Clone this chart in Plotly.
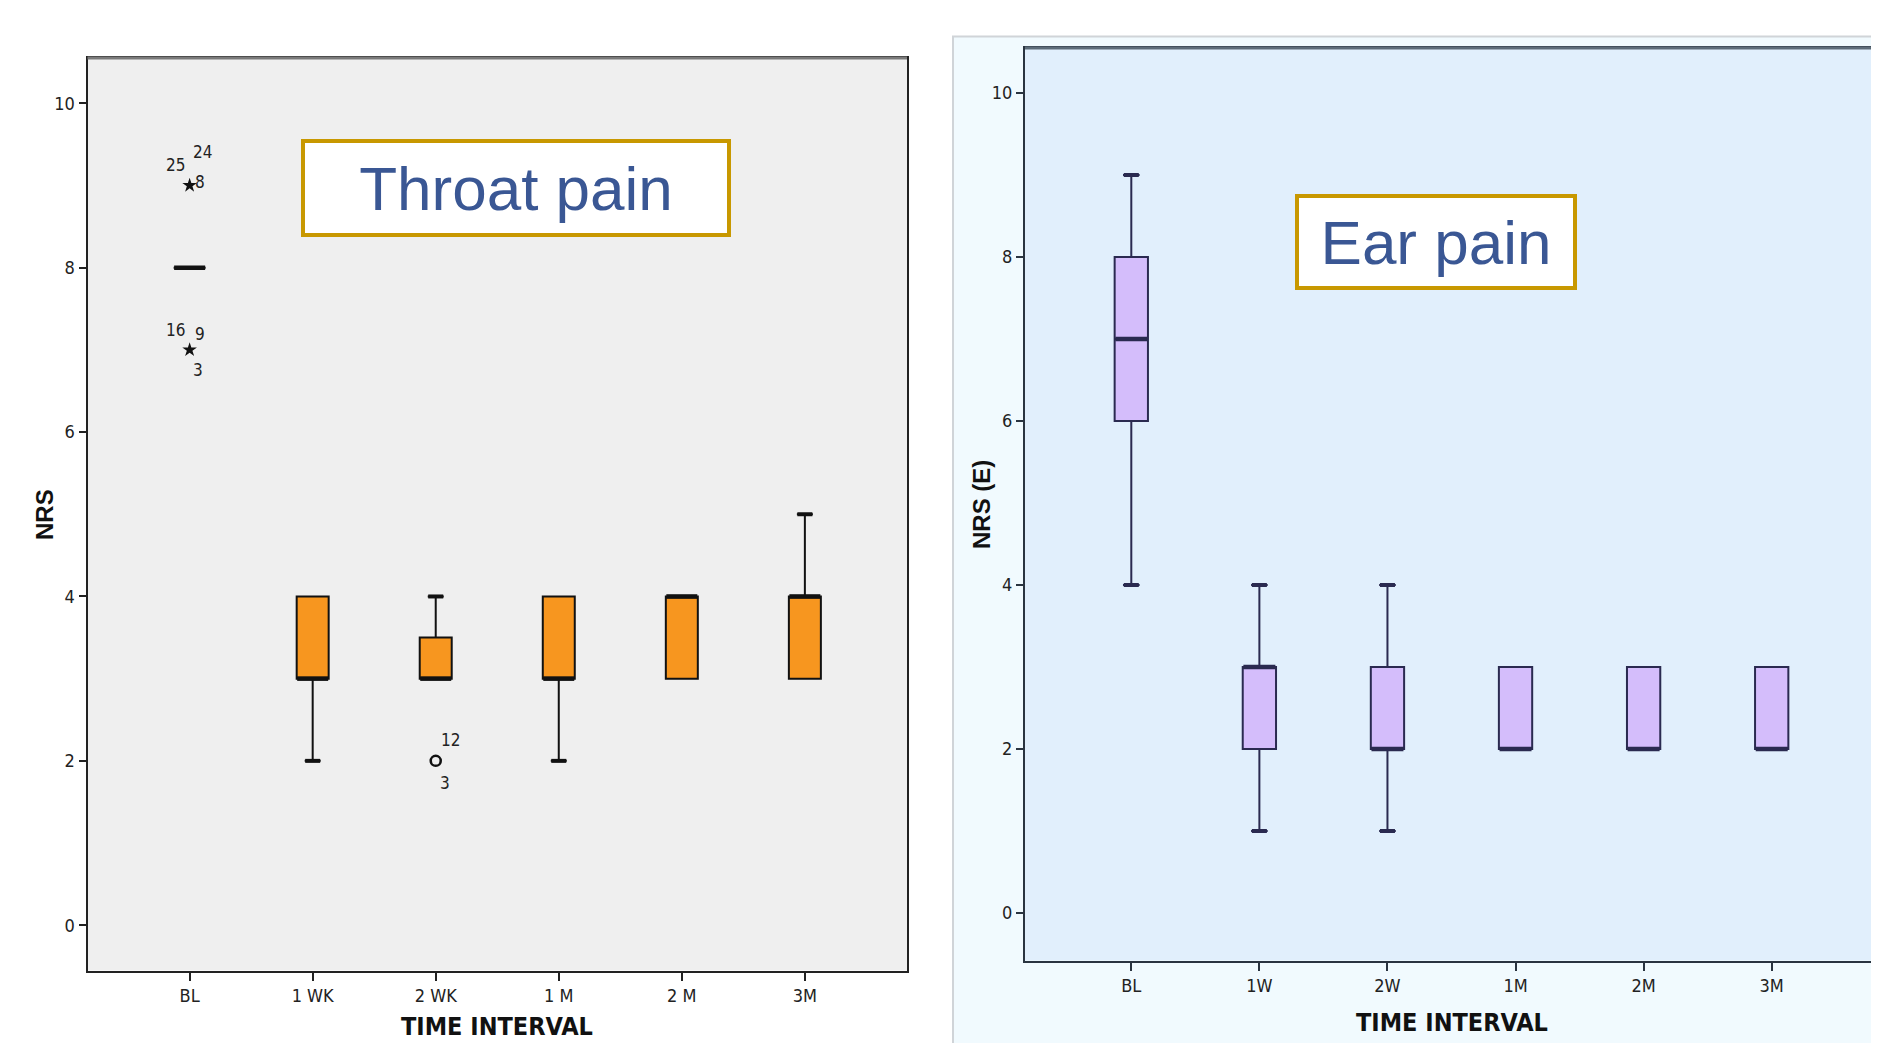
import plotly.graph_objects as go

# The page body has an 8px margin; the figure is sized/positioned to compensate.
OFF = 8
FW, FH = 1879 - OFF, 1043 - OFF

def px(x):
    return (x - OFF) / FW

def py(y):
    return 1 - (y - OFF) / FH

# ---------------- data ----------------
throat_cats = ["BL", "1 WK", "2 WK", "1 M", "2 M", "3M"]
throat_q1 = [8, 3, 3, 3, 3, 3]
throat_med = [8, 3, 3, 3, 4, 4]
throat_q3 = [8, 4, 3.5, 4, 4, 4]
throat_lo = [8, 2, 3, 2, 3, 3]
throat_hi = [8, 4, 4, 4, 4, 5]

throat_star_x = ["BL", "BL"]
throat_star_y = [9, 7]
throat_circle_x = ["2 WK"]
throat_circle_y = [2]
# outlier case labels
throat_case_cat = ["BL", "BL", "BL", "BL", "BL", "BL", "2 WK", "2 WK"]
throat_case_val = [9, 9, 9, 7, 7, 7, 2, 2]
throat_case_lbl = ["25", "24", "8", "16", "9", "3", "12", "3"]
throat_case_dx = [-14, 13, 10, -14, 10, 8, 15, 9]
throat_case_dy = [20, 33, 3, 20, 16, -20, 21, -22]

ear_cats = ["BL", "1W", "2W", "1M", "2M", "3M"]
ear_q1 = [6, 2, 2, 2, 2, 2]
ear_med = [7, 3, 2, 2, 2, 2]
ear_q3 = [8, 3, 3, 3, 3, 3]
ear_lo = [4, 1, 1, 2, 2, 2]
ear_hi = [9, 4, 4, 3, 3, 3]

y_ticks = [0, 2, 4, 6, 8, 10]

# ---------------- styles ----------------
NARROW = "Liberation Sans Narrow, DejaVu Sans Condensed, Arial Narrow, Liberation Sans, sans-serif"
ARIAL = "Liberation Sans, Arial, sans-serif"
ORANGE = "#f7961f"
LAVENDER = "#d4bdfb"
EAR_EDGE = "#2a2a50"
BOX_W = 0.26
LINE_EW = 1.4  # plotly's line-ew symbol length = 1.4 * size

fig = go.Figure()

def add_panel(cats, q1, med, q3, lo, hi, fill, edge, xa, ya, boxpx):
    fig.add_trace(go.Box(
        x=cats, q1=q1, median=med, q3=q3, lowerfence=lo, upperfence=hi,
        fillcolor=fill, line=dict(color=edge, width=2), width=BOX_W,
        whiskerwidth=0.5, boxpoints=False, showlegend=False, hoverinfo="skip",
        xaxis=xa, yaxis=ya,
    ))
    # thick median line
    fig.add_trace(go.Scatter(
        x=cats, y=med, mode="markers", xaxis=xa, yaxis=ya, showlegend=False,
        hoverinfo="skip",
        marker=dict(symbol="line-ew", size=boxpx / LINE_EW, line=dict(color=edge, width=4.5)),
    ))
    # thick whisker caps where the whisker extends beyond the box
    cx, cy = [], []
    for c, a, b, l, h in zip(cats, q1, q3, lo, hi):
        if l < a:
            cx.append(c); cy.append(l)
        if h > b:
            cx.append(c); cy.append(h)
    fig.add_trace(go.Scatter(
        x=cx, y=cy, mode="markers", xaxis=xa, yaxis=ya, showlegend=False,
        hoverinfo="skip",
        marker=dict(symbol="line-ew", size=15 / LINE_EW, line=dict(color=edge, width=4)),
    ))

add_panel(throat_cats, throat_q1, throat_med, throat_q3, throat_lo, throat_hi,
          ORANGE, "#111111", "x", "y", 31)
add_panel(ear_cats, ear_q1, ear_med, ear_q3, ear_lo, ear_hi,
          LAVENDER, EAR_EDGE, "x2", "y2", 32)

# outliers
fig.add_trace(go.Scatter(
    x=throat_star_x, y=throat_star_y, mode="markers", showlegend=False,
    hoverinfo="skip", xaxis="x", yaxis="y",
    marker=dict(symbol="star", size=11, color="#111111"),
))
fig.add_trace(go.Scatter(
    x=throat_circle_x, y=throat_circle_y, mode="markers", showlegend=False,
    hoverinfo="skip", xaxis="x", yaxis="y",
    marker=dict(symbol="circle-open", size=10, color="#111111",
                line=dict(width=2.5, color="#111111")),
))

annotations = []
for c, v, t, dx, dy in zip(throat_case_cat, throat_case_val, throat_case_lbl,
                           throat_case_dx, throat_case_dy):
    annotations.append(dict(
        x=c, y=v, xref="x", yref="y", text=t, showarrow=False,
        xshift=dx, yshift=dy, font=dict(family=NARROW, size=17, color="#222222"),
    ))

# title boxes
annotations.append(dict(
    x=px(516), y=py(188), xref="paper", yref="paper", text="Throat pain",
    xanchor="center", yanchor="middle",
    showarrow=False, font=dict(family=ARIAL, size=62, color="#3a5794"),
    bgcolor="white", bordercolor="#c89800", borderwidth=4, borderpad=0,
    width=422, height=90, align="center", valign="middle",
))
annotations.append(dict(
    x=px(1435.5), y=py(242), xref="paper", yref="paper", text="Ear pain",
    xanchor="center", yanchor="middle",
    showarrow=False, font=dict(family=ARIAL, size=62, color="#3a5794"),
    bgcolor="white", bordercolor="#c89800", borderwidth=4, borderpad=0,
    width=274, height=88, align="center", valign="middle",
))

# axis titles
annotations.append(dict(
    x=px(44), y=py(515), xref="paper", yref="paper", text="<b>NRS</b>",
    xanchor="center", yanchor="middle",
    textangle=-90, showarrow=False, font=dict(family=ARIAL, size=24, color="#111111"),
))
annotations.append(dict(
    x=px(981), y=py(505), xref="paper", yref="paper", text="<b>NRS (E)</b>",
    xanchor="center", yanchor="middle",
    textangle=-90, showarrow=False, font=dict(family=ARIAL, size=24, color="#111111"),
))
annotations.append(dict(
    x=px(497), y=py(1026), xref="paper", yref="paper", text="<b>TIME INTERVAL</b>",
    xanchor="center", yanchor="middle",
    showarrow=False, font=dict(family=NARROW, size=25, color="#111111"),
))
annotations.append(dict(
    x=px(1452), y=py(1022), xref="paper", yref="paper", text="<b>TIME INTERVAL</b>",
    xanchor="center", yanchor="middle",
    showarrow=False, font=dict(family=NARROW, size=25, color="#111111"),
))

shapes = [
    # right outer panel
    dict(type="rect", xref="paper", yref="paper", x0=px(953), x1=1.01, y0=-0.01,
         y1=py(36.5), fillcolor="#f1fafe", line=dict(color="#d0d4d8", width=2),
         layer="below"),
    # thick top borders
    dict(type="line", xref="paper", yref="paper", x0=px(87.5), x1=px(907),
         y0=py(58), y1=py(58), line=dict(color="#7a7a7a", width=3)),
    dict(type="line", xref="paper", yref="paper", x0=px(1025), x1=px(1878),
         y0=py(48), y1=py(48), line=dict(color="#5c6b78", width=3)),
]

tickfont = dict(family=NARROW, size=18, color="#222222")
common_x = dict(type="category", range=[-0.83, 5.83], showgrid=False, zeroline=False,
                showline=True, mirror=True, linewidth=2, ticks="outside", ticklen=8,
                tickwidth=2, tickfont=tickfont, fixedrange=True)
common_y = dict(range=[-0.55, 10.55], tickvals=y_ticks, showgrid=False, zeroline=False,
                showline=True, mirror=True, linewidth=2, ticks="outside", ticklen=7,
                tickwidth=2, tickfont=tickfont)

fig.update_layout(
    width=FW, height=FH, margin=dict(l=0, r=0, t=0, b=0),
    paper_bgcolor="white", plot_bgcolor="#efefef",
    xaxis=dict(common_x, domain=[px(87.5), px(907)], anchor="y",
               categoryarray=throat_cats, categoryorder="array", linecolor="#222222",
               tickcolor="#222222"),
    yaxis=dict(common_y, domain=[py(970.5), py(58)], anchor="x",
               linecolor="#222222", tickcolor="#222222"),
    xaxis2=dict(common_x, domain=[px(1025), px(1878)], anchor="y2",
                categoryarray=ear_cats, categoryorder="array", linecolor="#2a3440",
                tickcolor="#2a3440"),
    yaxis2=dict(common_y, range=[-0.58, 10.55], domain=[py(960.5), py(48)],
                anchor="x2", linecolor="#2a3440", tickcolor="#2a3440"),
    annotations=annotations, shapes=shapes,
)

# second plot background via a shape in its own axis domain
fig.add_shape(type="rect", xref="x2 domain", yref="y2 domain", x0=0, x1=1, y0=0, y1=1,
              fillcolor="#e1effc", line=dict(width=0), layer="below")

fig.write_html("out.html")
